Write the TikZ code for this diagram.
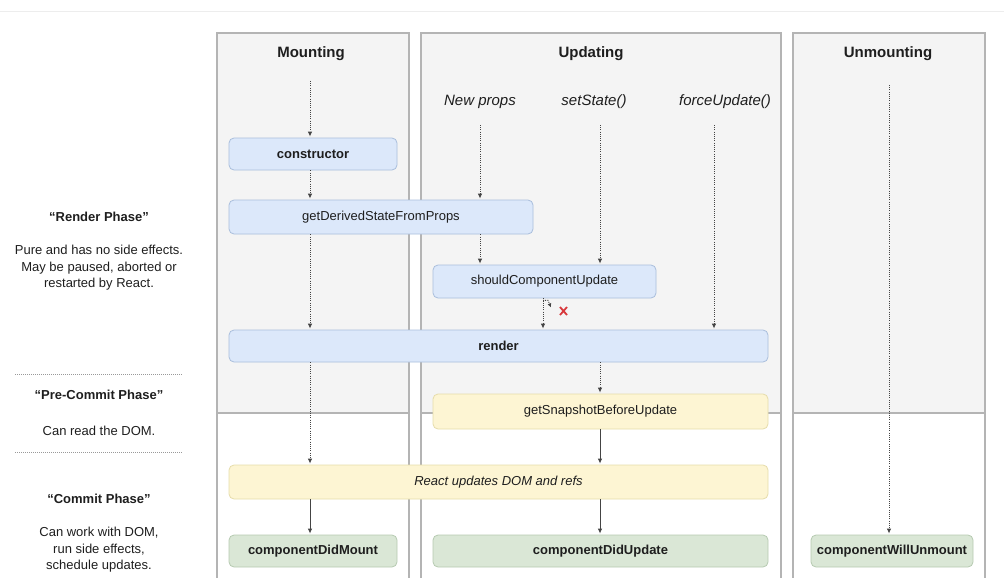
\documentclass[tikz,border=0pt]{standalone}
\usepackage{fontspec}
\setmainfont{Liberation Sans}
\usetikzlibrary{arrows.meta}
\definecolor{ink}{HTML}{1E1E1E}
\definecolor{lanebg}{HTML}{F4F4F4}
\definecolor{laneline}{HTML}{B4B4B4}
\definecolor{renderfill}{HTML}{DCE8FA}
\definecolor{renderline}{HTML}{A9BEDC}
\definecolor{prefill}{HTML}{FDF5D3}
\definecolor{preline}{HTML}{E6DCAA}
\definecolor{commitfill}{HTML}{DAE7D6}
\definecolor{commitline}{HTML}{B6CAB1}
\definecolor{arrowgray}{HTML}{444444}
\definecolor{divgray}{HTML}{999999}
\definecolor{stopred}{HTML}{D8393C}
\def\lanebox#1#2{\fill[lanebg] (#1,33) rectangle (#2,413);
  \draw[lane] (#1,578) |- (#2,33) -- (#2,578) (#1,413) -- (#2,413);}
\tikzset{
  lane/.style={draw=laneline, line width=1.3pt},
  method/.style={rounded corners=5pt, line width=0.8pt, inner sep=0pt, text=ink,
    font=\fontsize{13}{15}\selectfont},
  renderbox/.style={method, fill=renderfill, draw=renderline},
  precommitbox/.style={method, fill=prefill, draw=preline},
  commitbox/.style={method, fill=commitfill, draw=commitline},
  lanehead/.style={text=ink, font=\bfseries\fontsize{15}{18}\selectfont},
  trigger/.style={text=ink, font=\itshape\fontsize{15}{18}\selectfont},
  phasehead/.style={text=ink, font=\bfseries\fontsize{13}{16}\selectfont},
  phasenote/.style={text=ink, align=center, font=\fontsize{13}{16.5}\selectfont},
  flow/.style={draw=arrowgray, line width=0.9pt, -{Latex[length=5pt,width=4.5pt]}, shorten >=1pt},
  dotflow/.style={flow, dash pattern=on 1pt off 1.2pt},
  divider/.style={draw=divgray, line width=0.8pt, dash pattern=on 1pt off 1pt},
  xmark/.style={draw=stopred, line width=1.8pt}
}

\begin{document}
\begin{tikzpicture}[x=1pt, y=-1pt]
    \useasboundingbox (0,0) rectangle (1004,578);
    \draw[draw=black!7, line width=0.8pt] (0,11) -- (1004,11);
    \lanebox{217}{409}
    \lanebox{421}{781}
    \lanebox{793}{985}

    \node[lanehead] (mounting)   at (311,54) {Mounting};
    \node[lanehead] (updating)   at (591,54) {Updating};
    \node[lanehead] (unmounting) at (888,54) {Unmounting};
    \node[trigger] (newprops)    at (480,102) {New props};
    \node[trigger] (setstate)    at (594,102) {setState()};
    \node[trigger] (forceupdate) at (725,102) {forceUpdate()};

    \node[renderbox, minimum width=168pt, minimum height=32pt] (cons)   at (313,154) {\bfseries constructor};
    \node[renderbox, minimum width=304pt, minimum height=34pt] (gdsfp)  at (381,217) {getDerivedStateFromProps};
    \node[renderbox, minimum width=223pt, minimum height=33pt] (scu)    at (544.5,281.5) {shouldComponentUpdate};
    \node[renderbox, minimum width=539pt, minimum height=32pt] (render) at (498.5,346) {\bfseries render};
    \node[precommitbox, minimum width=335pt, minimum height=35pt] (gsbu) at (600.5,411.5) {getSnapshotBeforeUpdate};
    \node[precommitbox, minimum width=539pt, minimum height=34pt] (rudr) at (498.5,482) {\itshape React updates DOM and refs};
    \node[commitbox, minimum width=168pt, minimum height=32pt] (cdm) at (313,551) {\bfseries componentDidMount};
    \node[commitbox, minimum width=335pt, minimum height=32pt] (cdu) at (600.5,551) {\bfseries componentDidUpdate};
    \node[commitbox, minimum width=162pt, minimum height=32pt] (cwu) at (892,551) {\bfseries componentWillUnmount};

    \coordinate (mstart)  at (310,81);
    \coordinate (npstart) at (480,125);
    \coordinate (ssstart) at (600,125);
    \coordinate (fustart) at (714,125);
    \coordinate (ustart)  at (889,85);

    \draw[dotflow] (mstart) -- (cons.north -| mstart);
    \draw[dotflow] (cons.south -| mstart) -- (gdsfp.north -| mstart);
    \draw[dotflow] (gdsfp.south -| mstart) -- (render.north -| mstart);
    \draw[dotflow] (render.south -| mstart) -- (rudr.north -| mstart);
    \draw[flow] (rudr.south -| mstart) -- (cdm.north -| mstart);

    \draw[dotflow] (npstart) -- (gdsfp.north -| npstart);
    \draw[dotflow] (gdsfp.south -| npstart) -- (scu.north -| npstart);
    \draw[dotflow] (ssstart) -- (scu.north -| ssstart);
    \draw[dotflow] (fustart) -- (render.north -| fustart);
    \draw[dotflow] ([xshift=-1.5pt]scu.south) -- ([xshift=-1.5pt]scu.south |- render.north);
    \draw[dotflow, -{Latex[length=4pt,width=4pt]}, shorten >=0pt] ([xshift=-1.5pt,yshift=-2pt]scu.south) -- ++(5,0) -- ++(3,7);
    \draw[xmark] (560,307) -- (567,315) (560,315) -- (567,307);
    \draw[dotflow] (render.south -| ssstart) -- (gsbu.north -| ssstart);
    \draw[flow] (gsbu.south -| ssstart) -- (rudr.north -| ssstart);
    \draw[flow] (rudr.south -| ssstart) -- (cdu.north -| ssstart);

    \draw[dotflow] (ustart) -- (cwu.north -| ustart);

    \node[phasehead] (renderphase) at (99,217) {“Render Phase”};
    \node[phasenote] (rendernote)  at (99,268) {Pure and has no side effects.\\May be paused, aborted or\\restarted by React.};
    \draw[divider] (15,374) -- (182,374);
    \node[phasehead] (prephase)    at (99,395) {“Pre-Commit Phase”};
    \node[phasenote] (prenote)     at (99,431) {Can read the DOM.};
    \draw[divider] (15,452) -- (182,452);
    \node[phasehead] (commitphase) at (99,499) {“Commit Phase”};
    \node[phasenote] (commitnote)  at (99,550) {Can work with DOM,\\run side effects,\\schedule updates.};
\end{tikzpicture}
\end{document}
